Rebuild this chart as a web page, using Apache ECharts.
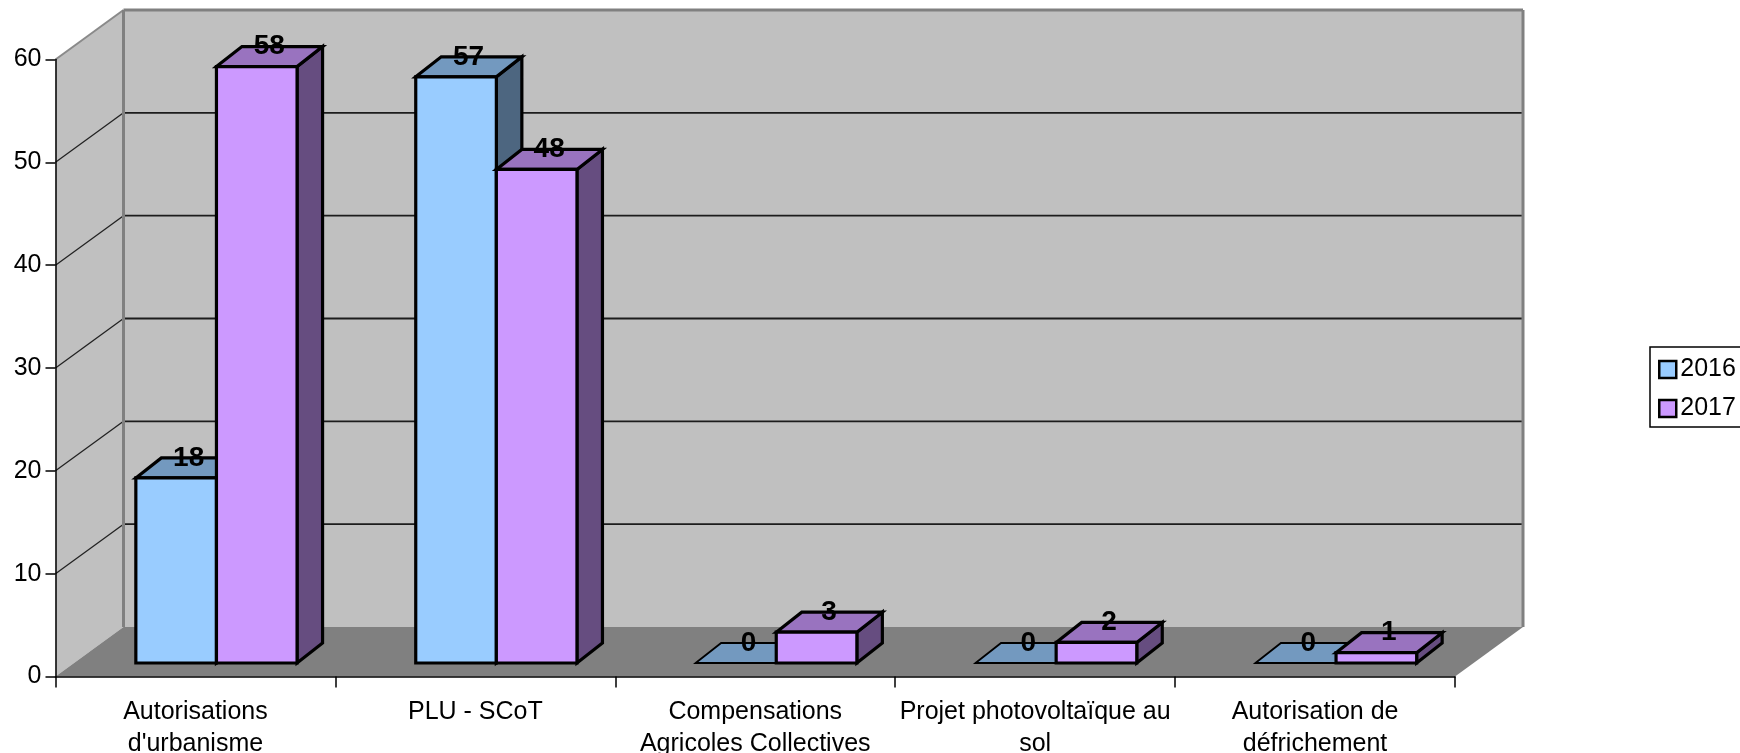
<!DOCTYPE html>
<html>
<head>
<meta charset="utf-8">
<style>html,body{margin:0;padding:0;background:#fff}#chart{width:1740px;height:753px}</style>
<script src="https://cdn.jsdelivr.net/npm/echarts@6/dist/echarts.min.js"></script>
</head>
<body>
<div id="chart"></div>
<script>
const categories = ["Autorisations\nd'urbanisme", "PLU - SCoT", "Compensations\nAgricoles Collectives", "Projet photovoltaïque au\nsol", "Autorisation de\ndéfrichement"];
const values2016 = [18, 57, 0, 0, 0];
const values2017 = [58, 48, 3, 2, 1];
const yTicks = [0, 10, 20, 30, 40, 50, 60];

// Perspective offsets of the box and of the bars inside it
const WALL_DX = 68, WALL_DY = -49.5;
const BAR_SHIFT_X = 21, BAR_SHIFT_Y = -13.5;
const BAR_DX = 25.5, BAR_DY = -20;
const BAR_RATIO = 0.288;
const FONT = '"Liberation Sans", Arial, sans-serif';

const chart = echarts.init(document.getElementById('chart'), null, {renderer: 'canvas'});

function poly(points, fill, stroke, lineWidth) {
  return {type: 'polygon', shape: {points}, style: {fill, stroke: stroke || null, lineWidth: lineWidth || 0, lineJoin: 'miter'}};
}
function line(a, b, stroke, lineWidth) {
  return {type: 'line', shape: {x1: a[0], y1: a[1], x2: b[0], y2: b[1]}, style: {stroke, lineWidth, fill: null}};
}

// Left wall, back wall, floor and their grid lines
function renderChamber(params, api) {
  const cs = params.coordSys;
  const left = cs.x, right = cs.x + cs.width;
  const y0 = api.coord([0, yTicks[0]])[1];
  const yMax = api.coord([0, yTicks[yTicks.length - 1]])[1];
  const back = (x, y) => [x + WALL_DX, y + WALL_DY];
  const children = [
    poly([[left, y0], [left, yMax], back(left, yMax), back(left, y0)], '#c0c0c0'),
    poly([back(left, yMax), back(right, yMax), back(right, y0), back(left, y0)], '#c0c0c0'),
    poly([[left, y0], back(left, y0), back(right, y0), [right, y0]], '#808080')
  ];
  yTicks.slice(1, -1).forEach(v => {
    const y = api.coord([0, v])[1];
    children.push(line([left, y], back(left, y), '#222', 1.3));
    children.push(line(back(left, y), back(right, y), '#1c1c1c', 1.8));
  });
  children.push(line([left, yMax], back(left, yMax), '#8a8a8a', 2));
  children.push(line(back(left, yMax), back(left, y0), '#808080', 3));
  children.push(line(back(left, yMax), back(right, yMax), '#808080', 3));
  children.push(line(back(right, yMax), back(right, y0), '#808080', 3));
  return {type: 'group', children};
}

// One extruded bar: front, top and side faces, then the value above it
function barRenderer(offsetSign, front, top, side) {
  return function (params, api) {
    const idx = api.value(0), val = api.value(1);
    const base = api.coord([idx, 0]);
    const head = api.coord([idx, val]);
    const w = api.size([1, 0])[0] * BAR_RATIO;
    const x0 = base[0] + BAR_SHIFT_X + (offsetSign < 0 ? -w : 0);
    const x1 = x0 + w;
    const yb = base[1] + BAR_SHIFT_Y, yt = head[1] + BAR_SHIFT_Y;
    const lw = val === 0 ? 1.8 : 3.2;
    const children = [
      poly([[x1, yt], [x1 + BAR_DX, yt + BAR_DY], [x1 + BAR_DX, yb + BAR_DY], [x1, yb]], side, '#000', lw),
      poly([[x0, yt], [x0 + BAR_DX, yt + BAR_DY], [x1 + BAR_DX, yt + BAR_DY], [x1, yt]], top, '#000', lw)
    ];
    if (val > 0) children.push(poly([[x0, yt], [x1, yt], [x1, yb], [x0, yb]], front, '#000', lw));
    children.push({
      type: 'text', z2: 10,
      style: {
        x: (x0 + x1) / 2 + 12.5, y: yt - 20, text: String(val),
        font: 'bold 28px ' + FONT, fill: '#000', align: 'center', verticalAlign: 'middle'
      }
    });
    return {type: 'group', children};
  };
}

chart.setOption({
  animation: false,
  backgroundColor: '#fff',
  grid: {left: 55.5, top: 59.5, width: 1399.5, height: 617, containLabel: false, outerBoundsMode: 'none'},
  legend: {
    orient: 'vertical', left: 1650, top: 347, padding: [10, 30, 6, 8], itemGap: 14,
    itemWidth: 17, itemHeight: 17, borderColor: '#000', borderWidth: 1.5,
    icon: 'rect',
    data: ['2016', '2017'],
    itemStyle: {borderColor: '#000', borderWidth: 2.5},
    textStyle: {fontFamily: FONT, fontSize: 25, color: '#000', padding: [0, 0, 0, -1]}
  },
  xAxis: {
    type: 'category', data: categories, boundaryGap: true, z: 5,
    axisLine: {lineStyle: {color: '#000', width: 1.5}},
    axisTick: {show: true, alignWithLabel: false, length: 11, interval: 0, lineStyle: {color: '#000', width: 1.5}},
    axisLabel: {interval: 0, margin: 20, fontFamily: FONT, fontSize: 25, lineHeight: 31.5, color: '#000', hideOverlap: false},
    splitLine: {show: false}
  },
  yAxis: {
    type: 'value', min: 0, max: 60, interval: 10, z: 5,
    axisLine: {show: true, lineStyle: {color: '#000', width: 1.5}},
    axisTick: {show: true, length: 10, lineStyle: {color: '#000', width: 1.5}},
    axisLabel: {margin: 14, fontFamily: FONT, fontSize: 25, color: '#000'},
    splitLine: {show: false}
  },
  series: [
    {type: 'custom', name: 'chambre', silent: true, z: 1, data: [[0, 0]], encode: {x: 0, y: 1}, renderItem: renderChamber},
    {type: 'custom', name: '2016', z: 2, itemStyle: {color: '#99ccff'}, encode: {x: 0, y: 1},
      data: values2016.map((v, i) => [i, v]), renderItem: barRenderer(-1, '#99ccff', '#7399bf', '#4d6680')},
    {type: 'custom', name: '2017', z: 3, itemStyle: {color: '#cc99ff'}, encode: {x: 0, y: 1},
      data: values2017.map((v, i) => [i, v]), renderItem: barRenderer(1, '#cc99ff', '#9973bf', '#664d80')}
  ]
});
</script>
</body>
</html>
